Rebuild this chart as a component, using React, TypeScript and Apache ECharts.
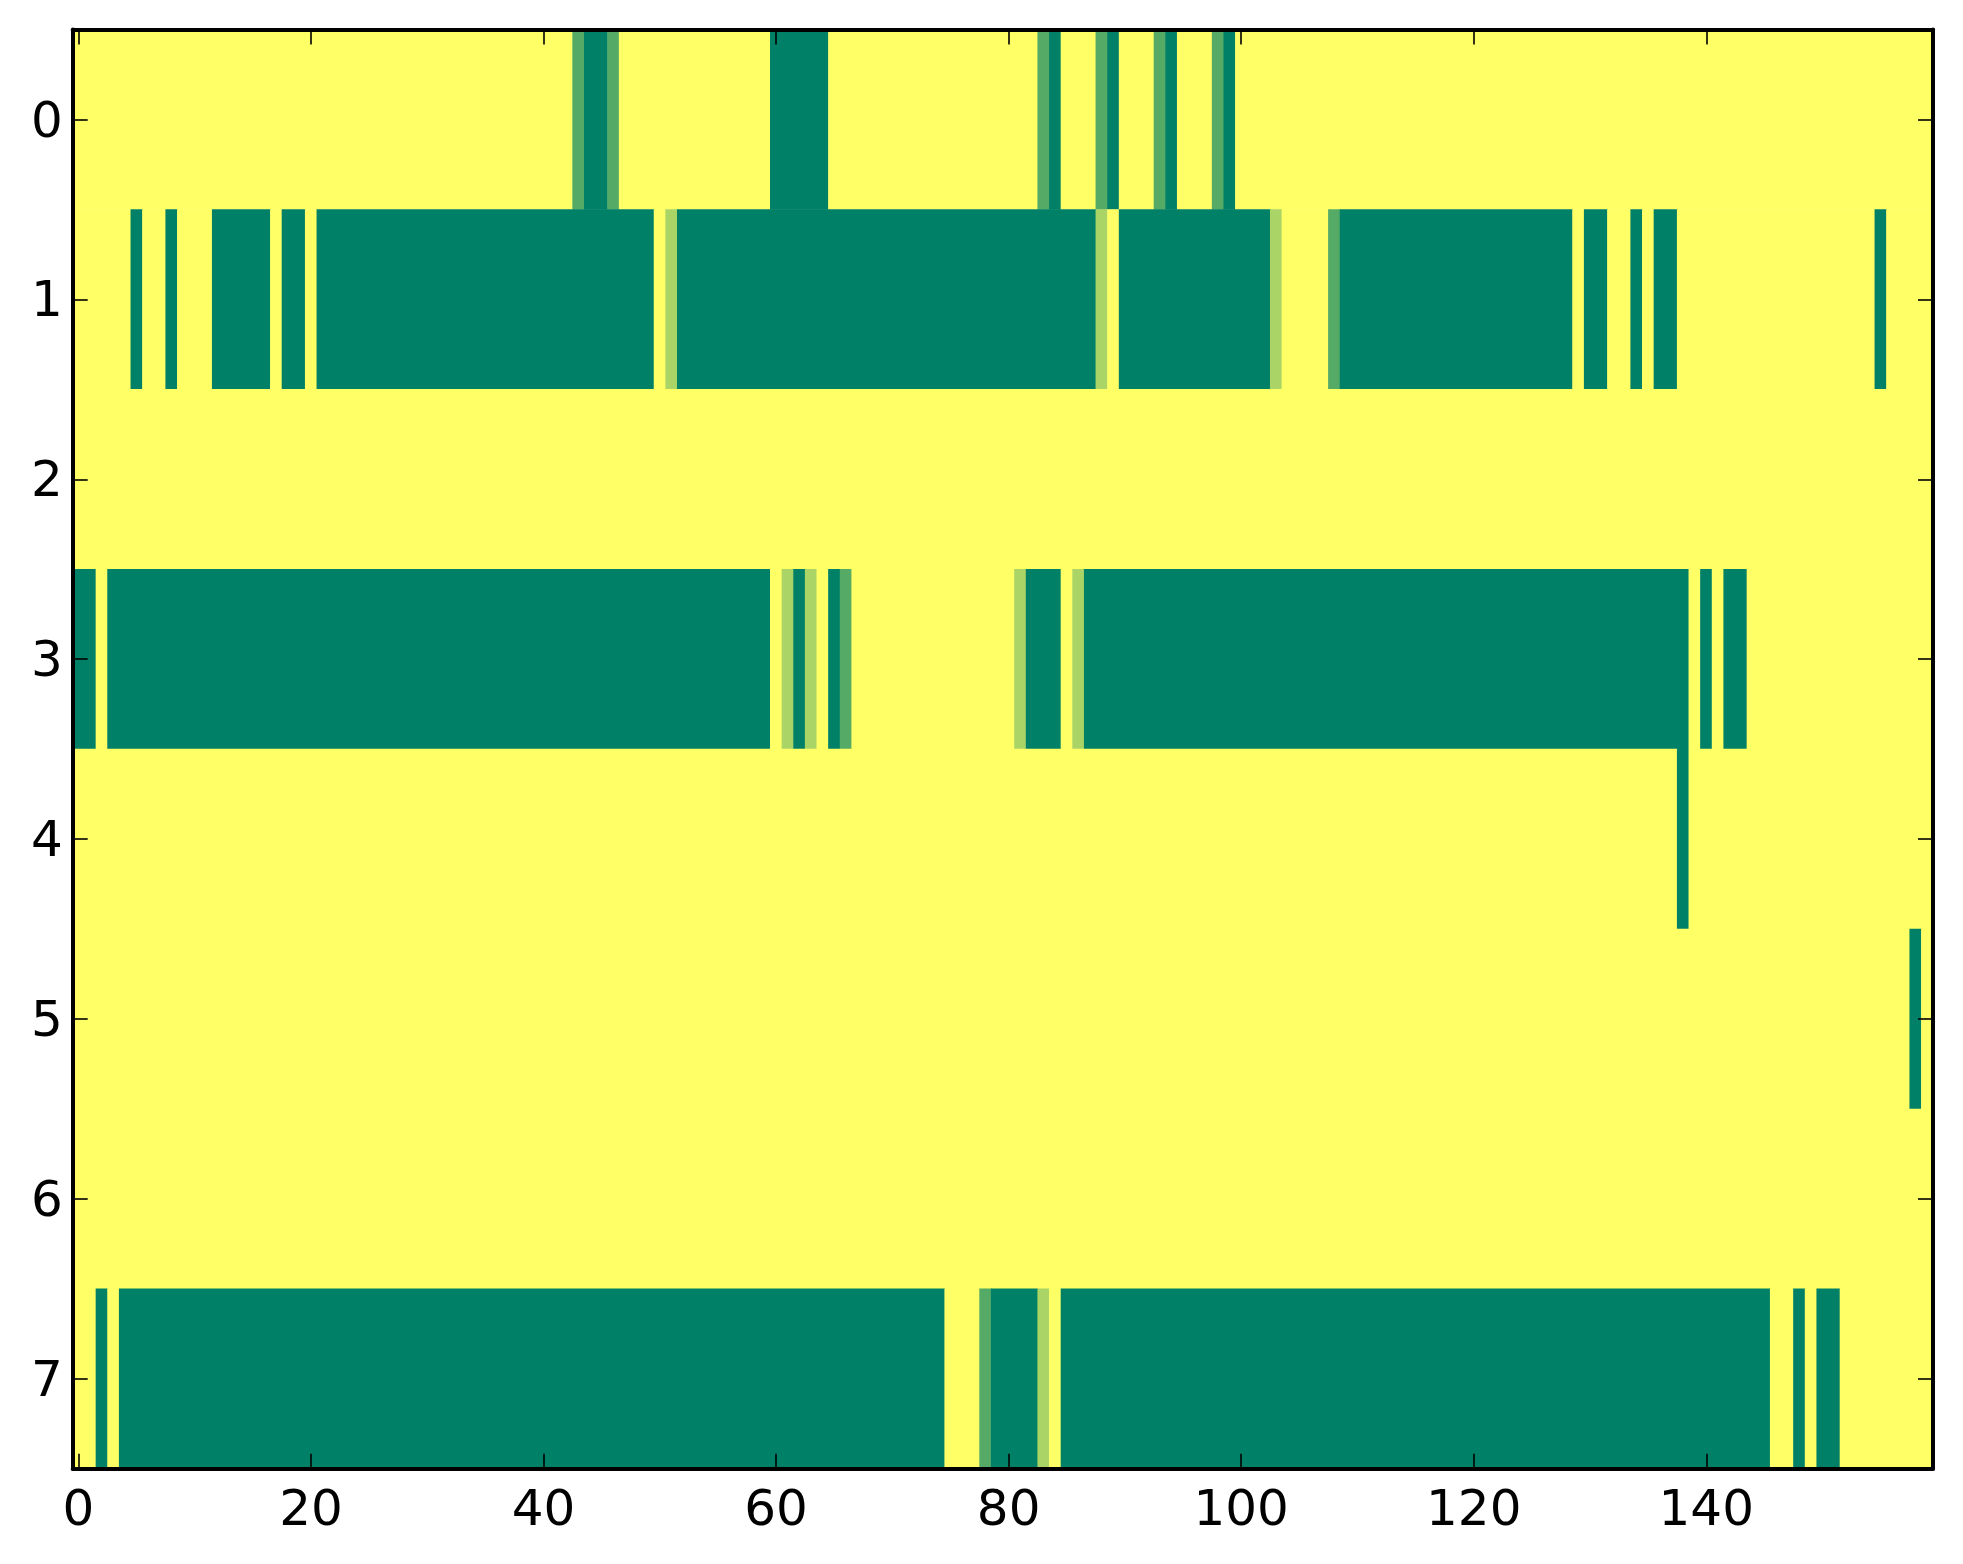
import React, { useEffect, useRef } from "react";
import * as echarts from "echarts";

// cell codes: 0 = dark green, 1 = medium green, 2 = light green, 3 = yellow
// each row is a list of [code, run length] covering the 160 columns
const row0: [number, number][] = [
  [3, 43], [1, 1], [0, 2], [1, 1], [3, 13], [0, 5], [3, 18], [1, 1], [0, 1],
  [3, 3], [1, 1], [0, 1], [3, 3], [1, 1], [0, 1], [3, 3], [1, 1], [0, 1], [3, 60],
];
const row1: [number, number][] = [
  [3, 5], [0, 1], [3, 2], [0, 1], [3, 3], [0, 5], [3, 1], [0, 2], [3, 1], [0, 29],
  [3, 1], [2, 1], [0, 36], [2, 1], [3, 1], [0, 13], [2, 1], [3, 4], [1, 1], [0, 20],
  [3, 1], [0, 2], [3, 2], [0, 1], [3, 1], [0, 2], [3, 17], [0, 1], [3, 4],
];
const row2: [number, number][] = [[3, 160]];
const row3: [number, number][] = [
  [0, 2], [3, 1], [0, 57], [3, 1], [2, 1], [0, 1], [2, 1], [3, 1], [0, 1], [1, 1],
  [3, 14], [2, 1], [0, 3], [3, 1], [2, 1], [0, 52], [3, 1], [0, 1], [3, 1], [0, 2], [3, 16],
];
const row4: [number, number][] = [[3, 138], [0, 1], [3, 21]];
const row5: [number, number][] = [[3, 158], [0, 1], [3, 1]];
const row6: [number, number][] = [[3, 160]];
const row7: [number, number][] = [
  [3, 2], [0, 1], [3, 1], [0, 71], [3, 3], [1, 1], [0, 4], [2, 1], [3, 1], [0, 61],
  [3, 2], [0, 1], [3, 1], [0, 2], [3, 8],
];
const rows = [row0, row1, row2, row3, row4, row5, row6, row7];

const nCols = 160;
const xCategories = Array.from({ length: nCols }, (_, i) => String(i));
const yCategories = ["0", "1", "2", "3", "4", "5", "6", "7"];
const colormap = ["#008066", "#ffff66"]; // matplotlib "summer"

// runs of equal cells: [startCol, endCol, row, code]
function buildRuns(): number[][] {
  const out: number[][] = [];
  rows.forEach((runs, r) => {
    let c = 0;
    runs.forEach(([v, n]) => {
      out.push([c, c + n - 1, r, v]);
      c += n;
    });
  });
  return out;
}

export default function App() {
  const ref = useRef<HTMLDivElement>(null);
  useEffect(() => {
    if (!ref.current) return;
    const chart = echarts.init(ref.current, undefined, { renderer: "svg" });
    const font = "DejaVu Sans";
    const lineStyle = { color: "#000", width: 4 };
    const tickStyle = { color: "#000", width: 1.6 };
    const labelStyle = { color: "#000", fontSize: 50, fontFamily: font };
    chart.setOption({
      animation: false,
      backgroundColor: "#ffffff",
      grid: { left: 72.7, right: 30, top: 29.6, bottom: 95.3, containLabel: false },
      visualMap: {
        show: false,
        type: "continuous",
        min: 0,
        max: 3,
        dimension: 3,
        seriesIndex: 0,
        inRange: { color: colormap },
      },
      xAxis: [
        {
          type: "category",
          data: xCategories,
          position: "bottom",
          boundaryGap: true,
          z: 10,
          axisLine: { show: true, lineStyle },
          axisTick: { show: true, inside: true, length: 15, interval: 19, alignWithLabel: true, lineStyle: tickStyle },
          axisLabel: { show: true, interval: 19, margin: 14, ...labelStyle },
          splitLine: { show: false },
        },
        {
          type: "category",
          data: xCategories,
          position: "top",
          boundaryGap: true,
          z: 10,
          axisLine: { show: true, lineStyle },
          axisTick: { show: true, inside: true, length: 15, interval: 19, alignWithLabel: true, lineStyle: tickStyle },
          axisLabel: { show: false },
          splitLine: { show: false },
        },
      ],
      yAxis: [
        {
          type: "category",
          data: yCategories,
          position: "left",
          inverse: true,
          boundaryGap: true,
          z: 10,
          axisLine: { show: true, lineStyle },
          axisTick: { show: true, inside: true, length: 15, alignWithLabel: true, lineStyle: tickStyle },
          axisLabel: { show: true, margin: 10, ...labelStyle },
          splitLine: { show: false },
        },
        {
          type: "category",
          data: yCategories,
          position: "right",
          inverse: true,
          boundaryGap: true,
          z: 10,
          axisLine: { show: true, lineStyle },
          axisTick: { show: true, inside: true, length: 15, alignWithLabel: true, lineStyle: tickStyle },
          axisLabel: { show: false },
          splitLine: { show: false },
        },
      ],
      series: [
        {
          type: "custom",
          xAxisIndex: 0,
          yAxisIndex: 0,
          silent: true,
          encode: { x: [0, 1], y: 2 },
          data: buildRuns(),
          renderItem: (params: any, api: any) => {
            const r = api.value(2);
            const s = api.coord([api.value(0), r]);
            const e = api.coord([api.value(1), r]);
            const size = api.size([1, 1]);
            return {
              type: "rect",
              shape: {
                x: s[0] - size[0] / 2 - 0.3,
                y: s[1] - size[1] / 2 - 0.3,
                width: e[0] - s[0] + size[0] + 0.6,
                height: size[1] + 0.6,
              },
              style: { fill: api.visual("color") },
            };
          },
        },
      ],
    });
    return () => chart.dispose();
  }, []);
  return (
    <div
      ref={ref}
      style={{ position: "fixed", left: 0, top: 0, width: 1963, height: 1564, background: "#fff" }}
    />
  );
}
